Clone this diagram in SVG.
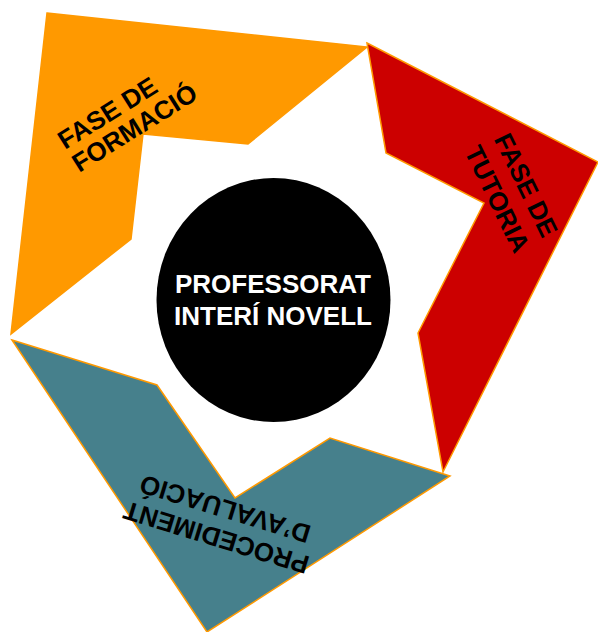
<svg xmlns="http://www.w3.org/2000/svg" width="598" height="632" viewBox="0 0 598 632">
<style>
.lbl{font-family:"Liberation Sans",Arial,sans-serif;font-weight:bold;font-size:26px;fill:#000}
.mid{text-anchor:middle}
.ctr{font-family:"Liberation Sans",Arial,sans-serif;font-weight:bold;font-size:26px;fill:#fff;text-anchor:middle}
.edge{stroke:#FF9900;stroke-width:1.5;stroke-linejoin:miter}
</style>
<rect width="598" height="632" fill="#fff"/>
<g id="fase-formacio">
<polygon class="edge" fill="#FF9900" points="47,13 367,47 248,144 143,134 131,239 11,334"/>
<g transform="translate(65,150) rotate(-32)">
<text class="lbl" x="0" y="0">FASE DE</text>
<text class="lbl" x="0" y="27">FORMACIÓ</text>
</g>
</g>
<g id="fase-tutoria">
<polygon class="edge" fill="#CC0000" points="367,43 598,162 443,472 418,333 484,203 386,153"/>
<g transform="translate(518,189) rotate(64)">
<text class="lbl mid" x="0" y="0">FASE DE</text>
<text class="lbl mid" x="0" y="32">TUTORIA</text>
</g>
</g>
<g id="procediment-avaluacio">
<polygon class="edge" fill="#46808C" points="12,340 157,385 235,498 330,438 450,476 207,632"/>
<g transform="translate(219,529) rotate(197)">
<text class="lbl mid" x="0" y="0">PROCEDIMENT</text>
<text class="lbl mid" x="0" y="30">D’AVALUACIÓ</text>
</g>
</g>
<g id="professorat">
<ellipse cx="273.5" cy="300" rx="117" ry="122" fill="#000"/>
<text class="ctr" x="273" y="293">PROFESSORAT</text>
<text class="ctr" x="273" y="325">INTERÍ NOVELL</text>
</g>
<g id="connectors"/>
</svg>
